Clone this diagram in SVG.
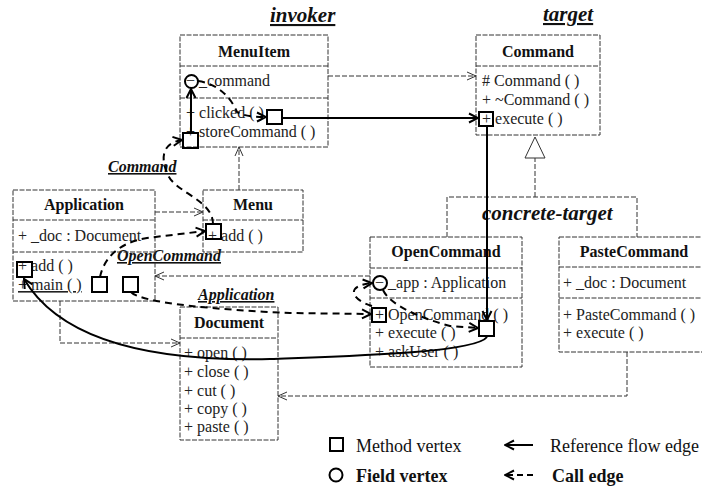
<svg xmlns="http://www.w3.org/2000/svg" width="702" height="487" viewBox="0 0 702 487">
<defs>
<style>
.box{fill:none;stroke:#333;stroke-width:1;stroke-dasharray:5 1.5}
.t{font-family:"Liberation Serif","Times New Roman",serif;font-size:16px;fill:#222}
.title{font-weight:bold;text-anchor:middle;fill:#111}
.lbl{font-family:"Liberation Serif","Times New Roman",serif;font-weight:bold;font-style:italic;text-decoration:underline;font-size:16px;fill:#111}
.big{font-size:21px}
.ref{fill:none;stroke:#000;stroke-width:2;marker-end:url(#ah)}
.call{fill:none;stroke:#000;stroke-width:2;stroke-dasharray:7 5;marker-end:url(#ah)}
.assoc{fill:none;stroke:#333;stroke-width:1;stroke-dasharray:5 2;marker-end:url(#ta)}
.plain{fill:none;stroke:#333;stroke-width:1;stroke-dasharray:5 2}
.mv{fill:none;stroke:#000;stroke-width:2}
.leg{font-family:"Liberation Serif","Times New Roman",serif;font-size:18px;fill:#111}
</style>
<marker id="ah" viewBox="0 0 12 12" refX="11" refY="6" markerWidth="12" markerHeight="12" markerUnits="userSpaceOnUse" orient="auto">
<path d="M2,1.5 L11,6 L2,10.5" fill="none" stroke="#000" stroke-width="2"/>
</marker>
<marker id="ta" viewBox="0 0 10 10" refX="10" refY="5" markerWidth="10" markerHeight="10" markerUnits="userSpaceOnUse" orient="auto">
<path d="M1,1 L10,5 L1,9" fill="none" stroke="#333" stroke-width="1"/>
</marker>
</defs>
<rect width="702" height="487" fill="#fff"/>

<g id="labels">
<text class="lbl big" x="270" y="22">invoker</text>
<text class="lbl big" x="543" y="21">target</text>
<text class="t" x="482" y="220" style="font-weight:bold;font-style:italic;font-size:21px;fill:#111">concrete-target</text>
<text class="lbl" x="108" y="172">Command</text>
<text class="lbl" x="117" y="261">OpenCommand</text>
<text class="lbl" x="198" y="300">Application</text>
</g>

<g id="MenuItem">
<rect class="box" x="180" y="35" width="148" height="112"/>
<line class="box" x1="180" y1="66" x2="328" y2="66"/>
<line class="box" x1="180" y1="98" x2="328" y2="98"/>
<text class="t title" x="254" y="57">MenuItem</text>
<text class="t" x="186" y="86">− _command</text>
<text class="t" x="186" y="118">+ clicked ( )</text>
<text class="t" x="186" y="137">+ storeCommand ( )</text>
<circle class="mv" cx="191.5" cy="81.5" r="6.5"/>
<rect class="mv" x="267" y="110" width="15" height="14"/>
<rect class="mv" x="183" y="133" width="15" height="15"/>
</g>

<g id="Command">
<rect class="box" x="476" y="35" width="124" height="100"/>
<line class="box" x1="476" y1="66" x2="600" y2="66"/>
<text class="t title" x="538" y="57">Command</text>
<text class="t" x="482" y="86"># Command ( )</text>
<text class="t" x="482" y="105">+ ~Command ( )</text>
<text class="t" x="482" y="124">+ execute ( )</text>
<rect class="mv" x="479" y="112" width="14" height="14"/>
</g>

<g id="Application">
<rect class="box" x="13" y="190" width="142" height="111"/>
<line class="box" x1="13" y1="220" x2="155" y2="220"/>
<line class="box" x1="13" y1="252" x2="155" y2="252"/>
<text class="t title" x="84" y="210">Application</text>
<text class="t" x="18" y="241">+ _doc : Document</text>
<text class="t" x="18" y="271">+ add ( )</text>
<text class="t" x="18" y="290" style="text-decoration:underline">+ main ( )</text>
<rect class="mv" x="17" y="262" width="15" height="15"/>
<rect class="mv" x="92" y="277" width="15" height="15"/>
<rect class="mv" x="123" y="277" width="15" height="15"/>
</g>

<g id="Menu">
<rect class="box" x="203" y="190" width="100" height="62"/>
<line class="box" x1="203" y1="220" x2="303" y2="220"/>
<text class="t title" x="253" y="210">Menu</text>
<text class="t" x="208" y="241">+ add ( )</text>
<rect class="mv" x="206" y="224" width="15" height="15"/>
</g>

<g id="OpenCommand">
<rect class="box" x="370" y="237" width="152" height="130"/>
<line class="box" x1="370" y1="268" x2="522" y2="268"/>
<line class="box" x1="370" y1="298" x2="522" y2="298"/>
<text class="t title" x="446" y="257">OpenCommand</text>
<text class="t" x="375" y="288">− _app : Application</text>
<text class="t" x="375" y="320">+ OpenCommand ( )</text>
<text class="t" x="375" y="338">+ execute ( )</text>
<text class="t" x="375" y="357">+ askUser ( )</text>
<circle class="mv" cx="380" cy="283" r="7"/>
<rect class="mv" x="372" y="308" width="14" height="14"/>
<rect class="mv" x="479" y="321" width="15" height="15"/>
</g>

<g id="PasteCommand">
<rect class="box" x="559" y="237" width="146" height="115"/>
<line class="box" x1="559" y1="267" x2="705" y2="267"/>
<line class="box" x1="559" y1="298" x2="705" y2="298"/>
<text class="t title" x="634" y="257">PasteCommand</text>
<text class="t" x="563" y="288">+ _doc : Document</text>
<text class="t" x="563" y="320">+ PasteCommand ( )</text>
<text class="t" x="563" y="338">+ execute ( )</text>
</g>

<g id="Document">
<rect class="box" x="180" y="307" width="98" height="133"/>
<line class="box" x1="180" y1="338" x2="278" y2="338"/>
<text class="t title" x="229" y="328">Document</text>
<text class="t" x="184" y="358">+ open ( )</text>
<text class="t" x="184" y="377">+ close ( )</text>
<text class="t" x="184" y="396">+ cut ( )</text>
<text class="t" x="184" y="414">+ copy ( )</text>
<text class="t" x="184" y="432">+ paste ( )</text>
</g>

<g id="connectors">
<line class="assoc" x1="328" y1="76" x2="476" y2="76"/>
<line class="assoc" x1="239" y1="190" x2="239" y2="147"/>
<line class="assoc" x1="155" y1="212" x2="203" y2="212"/>
<line class="assoc" x1="370" y1="276" x2="155" y2="276"/>
<polyline class="assoc" points="60,301 60,343 180,343"/>
<polyline class="assoc" points="627,352 627,396 278,396"/>
<polyline class="plain" points="447,237 447,197 637,197 637,237"/>
<line class="plain" x1="535" y1="197" x2="535" y2="158"/>
<path d="M535,137 L545,158 L525,158 Z" fill="#fff" stroke="#333" stroke-width="1"/>
<line class="ref" x1="191" y1="133" x2="191" y2="89"/>
<line class="ref" x1="282" y1="118" x2="478" y2="118"/>
<line class="ref" x1="487" y1="126" x2="487" y2="320"/>
<path class="ref" d="M487,337 C475,353 350,356 270,359 C150,362 60,340 24,279"/>
<path class="call" d="M198,81 C220,84 232,100 237,112 Q245,117 266,117"/>
<path class="call" d="M213,224 C213,200 175,192 168,175 C160,158 162,143 182,140"/>
<path class="call" d="M100,277 C103,262 115,243 147,238 L205,231"/>
<path class="call" d="M131,292 C140,303 220,310 290,313 L371,314"/>
<path class="call" d="M372,306 C352,300 344,286 372,283"/>
<path class="call" d="M383,290 C390,305 420,318 450,326 L478,328"/>
</g>

<g id="legend">
<rect class="mv" x="330" y="438" width="13" height="13"/>
<text class="leg" x="356" y="452">Method vertex</text>
<line class="ref" x1="533" y1="445" x2="505" y2="445"/>
<text class="leg" x="550" y="452">Reference flow edge</text>
<circle class="mv" cx="336" cy="475" r="6.5"/>
<text class="leg" x="356" y="482" font-weight="bold">Field vertex</text>
<line x1="533" y1="475" x2="505" y2="475" fill="none" stroke="#000" stroke-width="2" stroke-dasharray="6 4" marker-end="url(#ah)"/>
<text class="leg" x="552" y="482" font-weight="bold">Call edge</text>
</g>
</svg>
